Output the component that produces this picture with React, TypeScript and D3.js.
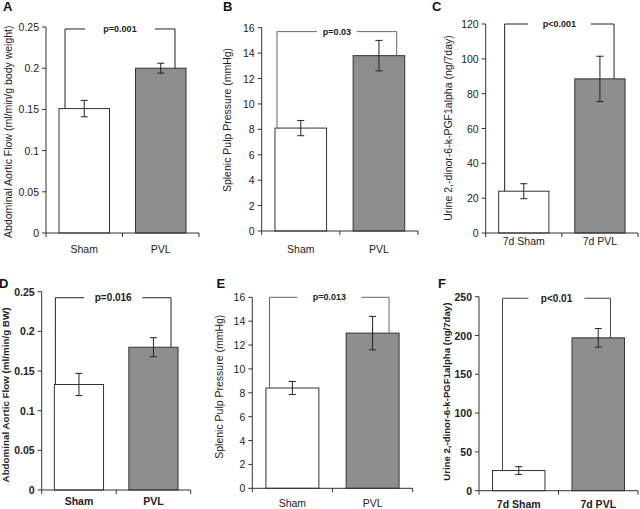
import React from "react";
import * as d3 from "d3";

// ---- data ----
const catsA = ["Sham", "PVL"];
const meanA = [0.151, 0.2];
const errA = [0.01, 0.006];
const ticksA = [0, 0.05, 0.1, 0.15, 0.2, 0.25];

const catsB = ["Sham", "PVL"];
const meanB = [8.1, 13.8];
const errB = [0.6, 1.2];
const ticksB = [0, 2, 4, 6, 8, 10, 12, 14, 16];

const catsC = ["7d Sham", "7d PVL"];
const meanC = [24, 88.5];
const errC = [4.3, 13];
const ticksC = [0, 20, 40, 60, 80, 100, 120];

const catsD = ["Sham", "PVL"];
const meanD = [0.133, 0.18];
const errD = [0.014, 0.012];
const ticksD = [0, 0.05, 0.1, 0.15, 0.2, 0.25];

const catsE = ["Sham", "PVL"];
const meanE = [8.4, 13.0];
const errE = [0.55, 1.4];
const ticksE = [0, 2, 4, 6, 8, 10, 12, 14, 16];

const catsF = ["7d Sham", "7d PVL"];
const meanF = [26, 197];
const errF = [5, 12];
const ticksF = [0, 50, 100, 150, 200, 250];

const panels = [
  { letter: "A", cats: catsA, mean: meanA, err: errA, ticks: ticksA, title: "Abdominal Aortic Flow (ml/min/g body weight)", p: "p=0.001", level: 0.2476 },
  { letter: "B", cats: catsB, mean: meanB, err: errB, ticks: ticksB, title: "Splenic Pulp Pressure (mmHg)", p: "p=0.03", level: 15.69 },
  { letter: "C", cats: catsC, mean: meanC, err: errC, ticks: ticksC, title: "Urine 2,-dinor-6-k-PGF1alpha (ng/7day)", p: "p<0.001", level: 120 },
  { letter: "D", cats: catsD, mean: meanD, err: errD, ticks: ticksD, title: "Abdominal Aortic Flow (ml/min/g BW)", p: "p=0.016", level: 0.2424 },
  { letter: "E", cats: catsE, mean: meanE, err: errE, ticks: ticksE, title: "Splenic Pulp Pressure (mmHg)", p: "p=0.013", level: 16 },
  { letter: "F", cats: catsF, mean: meanF, err: errF, ticks: ticksF, title: "Urine 2,-dinor-6-k-PGF1alpha (ng/7day)", p: "p<0.01", level: 248 },
];

// ---- layout (pixels) ----
const frames = [
  { x0: 46, x1: 199, yTop: 27, y0: 233, lx: 3, ly: 11, tx: 8, ty: 131.7, tSize: 10.5, labDy: 20, offL: 6, offR: 11, gap: 35, pSize: 9, bold: false, bc: "#222" },
  { x0: 261.7, x1: 418, yTop: 27.7, y0: 231, lx: 223, ly: 11, tx: 227, ty: 120, tSize: 10.5, labDy: 22, offL: 2, offR: 8, gap: 20, pSize: 9, bold: false, bc: "#666" },
  { x0: 485.7, x1: 638, yTop: 24, y0: 233, lx: 432, ly: 11, tx: 448, ty: 128, tSize: 10.5, labDy: 12, offL: 6, offR: 11, gap: 31.5, pSize: 9, bold: false, bc: "#222" },
  { x0: 41.7, x1: 190.7, yTop: 291.7, y0: 490, lx: -1, ly: 288, tx: 5, ty: 395, tSize: 9.8, labDy: 15, offL: 1, offR: 7, gap: 29, pSize: 10, bold: true, bc: "#222" },
  { x0: 252.3, x1: 412.7, yTop: 297.3, y0: 488.3, lx: 216.5, ly: 288, tx: 219, ty: 386.7, tSize: 10.5, labDy: 19, offL: 3.6, offR: 10, gap: 32, pSize: 9, bold: false, bc: "#666" },
  { x0: 479, x1: 638, yTop: 296.7, y0: 490.7, lx: 438, ly: 288, tx: 446, ty: 391.7, tSize: 9.6, labDy: 17, offL: 10, offR: 14, gap: 28, pSize: 10, bold: true, bc: "#444" },
];

const svgWidth = 640;
const svgHeight = 509;
const FONT = "'Liberation Sans', Arial, sans-serif";
const fills = ["#ffffff", "#8e8e8e"];

function Panel({ d, f }: any) {
  const x = d3.scaleBand().domain(d.cats).range([f.x0, f.x1]).padding(0);
  const bw = x.bandwidth();
  const barW = bw * 0.66;
  const y = d3.scaleLinear().domain([0, d.ticks[d.ticks.length - 1]]).range([f.y0, f.yTop]);
  const weight = f.bold ? "bold" : "normal";
  const barX = (c: string) => (x(c) as number) + (bw - barW) / 2;

  const bxL = barX(d.cats[0]) + f.offL;
  const bxR = barX(d.cats[1]) + barW - f.offR;
  const by = y(d.level);
  const mid = (bxL + bxR) / 2;

  return (
    <g fontFamily={FONT}>
      <text x={f.lx} y={f.ly} fontSize={13} fontWeight="bold" fill="#111">{d.letter}</text>
      <text
        transform={`translate(${f.tx},${f.ty}) rotate(-90)`}
        textAnchor="middle"
        dominantBaseline="central"
        fontSize={f.tSize}
        fontWeight={weight}
        fill="#222"
      >
        {d.title}
      </text>

      {/* bars */}
      {d.cats.map((c: string, i: number) => (
        <rect key={c} x={barX(c)} y={y(d.mean[i])} width={barW} height={f.y0 - y(d.mean[i])}
          fill={fills[i]} stroke="#333" strokeWidth={1} />
      ))}

      {/* error bars */}
      {d.cats.map((c: string, i: number) => {
        const cx = (x(c) as number) + bw / 2;
        const hi = y(d.mean[i] + d.err[i]);
        const lo = y(d.mean[i] - d.err[i]);
        return (
          <g key={c} stroke="#222" strokeWidth={1}>
            <line x1={cx} x2={cx} y1={hi} y2={lo} />
            <line x1={cx - 3.5} x2={cx + 3.5} y1={hi} y2={hi} />
            <line x1={cx - 3.5} x2={cx + 3.5} y1={lo} y2={lo} />
          </g>
        );
      })}

      {/* y axis */}
      <line x1={f.x0} x2={f.x0} y1={f.yTop} y2={f.y0} stroke="#333" />
      {d.ticks.map((t: number) => (
        <g key={t}>
          <line x1={f.x0 - 4} x2={f.x0} y1={y(t)} y2={y(t)} stroke="#333" />
          <text x={f.x0 - 7} y={y(t)} textAnchor="end" dominantBaseline="central"
            fontSize={10.5} fontWeight={weight} fill="#222">{String(t)}</text>
        </g>
      ))}

      {/* x axis */}
      <line x1={f.x0} x2={f.x1} y1={f.y0} y2={f.y0} stroke="#333" />
      {[f.x0, ...d.cats.slice(1).map((c: string) => x(c) as number), f.x1].map((tx: number, i: number) => (
        <line key={i} x1={tx} x2={tx} y1={f.y0} y2={f.y0 + 4} stroke="#333" />
      ))}
      {d.cats.map((c: string) => (
        <text key={c} x={(x(c) as number) + bw / 2} y={f.y0 + f.labDy} textAnchor="middle"
          fontSize={10.5} fontWeight={weight} fill="#222">{c}</text>
      ))}

      {/* significance bracket */}
      <g stroke={f.bc} strokeWidth={1} fill="none">
        <line x1={bxL} x2={bxL} y1={by} y2={y(d.mean[0])} />
        <line x1={bxR} x2={bxR} y1={by} y2={y(d.mean[1])} />
        <line x1={bxL} x2={mid - f.gap} y1={by} y2={by} />
        <line x1={mid + f.gap} x2={bxR} y1={by} y2={by} />
      </g>
      <text x={mid} y={by} textAnchor="middle" dominantBaseline="central"
        fontSize={f.pSize} fontWeight="bold" fill="#222">{d.p}</text>
    </g>
  );
}

export default function App() {
  return (
    <svg width={svgWidth} height={svgHeight} style={{ position: "absolute", left: 0, top: 0, background: "#fff" }}>
      <rect width={svgWidth} height={svgHeight} fill="#fff" />
      {panels.map((d, i) => (
        <Panel key={d.letter} d={d} f={frames[i]} />
      ))}
    </svg>
  );
}
